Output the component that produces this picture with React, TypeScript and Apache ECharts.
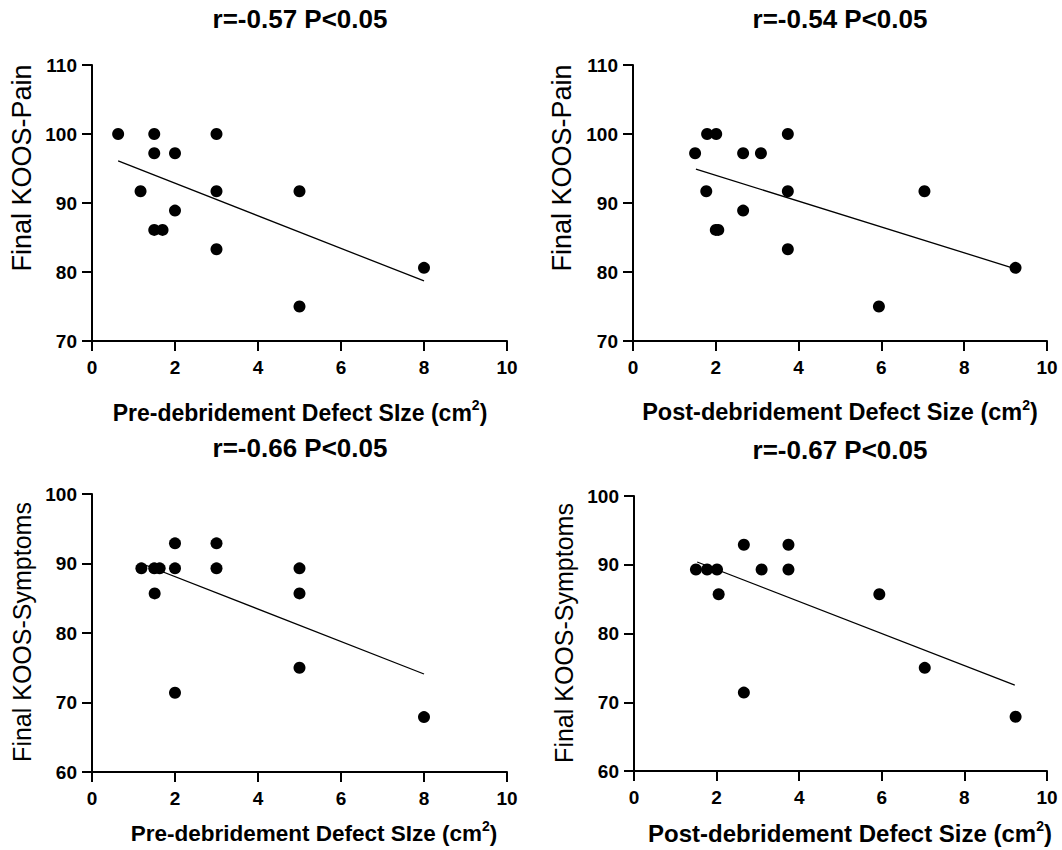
import React, { useEffect, useRef } from 'react';
import * as echarts from 'echarts';

// ---------- data ----------
const xTicks = [0, 2, 4, 6, 8, 10];
const painTicks = [70, 80, 90, 100, 110];
const symptomTicks = [60, 70, 80, 90, 100];

const panelTitles = ['r=-0.57 P<0.05', 'r=-0.54 P<0.05', 'r=-0.66 P<0.05', 'r=-0.67 P<0.05'];
const yTitles = ['Final KOOS-Pain', 'Final KOOS-Pain', 'Final KOOS-Symptoms', 'Final KOOS-Symptoms'];
const xTitleStems = ['Pre-debridement Defect SIze (cm', 'Post-debridement Defect Size (cm', 'Pre-debridement Defect SIze (cm', 'Post-debridement Defect Size (cm'];

// Panel A: pre-debridement size vs KOOS-Pain
const painPreX = [0.63, 1.5, 1.5, 2.0, 3.0, 1.17, 3.0, 2.0, 1.5, 1.7, 3.0, 5.0, 5.0, 8.0];
const painPreY = [100, 100, 97.2, 97.2, 100, 91.7, 91.7, 88.9, 86.1, 86.1, 83.3, 91.7, 75.0, 80.6];
const painPreFitX = [0.63, 8.0];
const painPreFitY = [96.1, 78.7];

// Panel B: post-debridement size vs KOOS-Pain
const painPostX = [1.5, 1.79, 2.01, 1.77, 2.0, 2.06, 2.66, 3.09, 2.66, 3.74, 3.74, 3.74, 5.94, 7.04, 9.24];
const painPostY = [97.2, 100, 100, 91.7, 86.1, 86.1, 97.2, 97.2, 88.9, 100, 91.7, 83.3, 75.0, 91.7, 80.6];
const painPostFitX = [1.52, 9.22];
const painPostFitY = [94.9, 80.5];

// Panel C: pre-debridement size vs KOOS-Symptoms
const symPreX = [1.19, 1.5, 1.63, 1.51, 2.0, 2.0, 2.0, 3.0, 3.0, 5.0, 5.0, 5.0, 8.0];
const symPreY = [89.3, 89.3, 89.3, 85.7, 92.9, 89.3, 71.4, 92.9, 89.3, 89.3, 85.7, 75.0, 67.9];
const symPreFitX = [1.19, 8.0];
const symPreFitY = [90.0, 74.1];

// Panel D: post-debridement size vs KOOS-Symptoms
const symPostX = [1.5, 1.77, 2.01, 2.05, 2.66, 2.66, 3.09, 3.74, 3.74, 5.94, 7.04, 9.24];
const symPostY = [89.3, 89.3, 89.3, 85.7, 92.9, 71.4, 89.3, 92.9, 89.3, 85.7, 75.0, 67.9];
const symPostFitX = [1.53, 9.22];
const symPostFitY = [90.4, 72.5];

const FONT = 'Liberation Sans, Arial, Helvetica, sans-serif';

const zip = (xs: number[], ys: number[]) => xs.map((x, i) => [x, ys[i]]);

function makeAxis(i: number, ticks: number[], margin: number) {
  return {
    type: 'value',
    gridIndex: i,
    min: ticks[0],
    max: ticks[ticks.length - 1],
    interval: ticks[1] - ticks[0],
    axisLine: { show: true, lineStyle: { color: '#000000', width: 2 } },
    axisTick: { show: true, length: 10, lineStyle: { color: '#000000', width: 2 } },
    splitLine: { show: false },
    axisLabel: {
      color: '#000000',
      fontFamily: FONT,
      fontWeight: 'bold',
      fontSize: 19,
      margin: margin,
    },
  };
}

export default function App() {
  const ref = useRef<HTMLDivElement>(null);

  useEffect(() => {
    if (!ref.current) return;
    const chart = echarts.init(ref.current, null, { renderer: 'svg' });

    const grids = [
      { left: 92, top: 65, width: 415, height: 276 },
      { left: 633, top: 65, width: 414, height: 276 },
      { left: 92, top: 494, width: 415, height: 278 },
      { left: 634, top: 496, width: 413, height: 275 },
    ];
    const yTickSets = [painTicks, painTicks, symptomTicks, symptomTicks];
    const scatterData = [
      zip(painPreX, painPreY),
      zip(painPostX, painPostY),
      zip(symPreX, symPreY),
      zip(symPostX, symPostY),
    ];
    const fitData = [
      zip(painPreFitX, painPreFitY),
      zip(painPostFitX, painPostFitY),
      zip(symPreFitX, symPreFitY),
      zip(symPostFitX, symPostFitY),
    ];

    const xAxis = grids.map((_, i) => makeAxis(i, xTicks, 17));
    const yAxis = grids.map((_, i) => makeAxis(i, yTickSets[i], 15));

    const series: any[] = [];
    grids.forEach((_, i) => {
      series.push({
        type: 'line',
        xAxisIndex: i,
        yAxisIndex: i,
        data: fitData[i],
        symbol: 'none',
        lineStyle: { color: '#000', width: 1.3 },
        z: 2,
      });
      series.push({
        type: 'scatter',
        xAxisIndex: i,
        yAxisIndex: i,
        data: scatterData[i],
        symbol: 'circle',
        symbolSize: 12,
        itemStyle: { color: '#000', opacity: 1 },
        z: 3,
      });
    });

    const titlePos = [[300, 19], [840, 19], [300, 448], [840, 450]];
    const yTitlePos = [[22, 168], [562, 168], [22, 632], [564, 633]];
    const yTitleSize = [27, 27, 25, 25];
    const xTitlePos = [[300, 411], [840, 411], [314, 832], [850, 832]];
    const xTitleSize = [23, 23.5, 22.5, 24];

    const graphic: any[] = [];
    grids.forEach((_, i) => {
      graphic.push({
        type: 'text', x: titlePos[i][0], y: titlePos[i][1],
        style: { text: panelTitles[i], fill: '#000', fontFamily: FONT, fontWeight: 'bold', fontSize: 26, align: 'center', verticalAlign: 'middle' },
      });
      graphic.push({
        type: 'text', x: yTitlePos[i][0], y: yTitlePos[i][1], rotation: Math.PI / 2,
        style: { text: yTitles[i], fill: '#000', fontFamily: FONT, fontSize: yTitleSize[i], align: 'center', verticalAlign: 'middle' },
      });
      graphic.push({
        type: 'text', x: xTitlePos[i][0], y: xTitlePos[i][1],
        style: {
          text: '{m|' + xTitleStems[i] + '}{s|2}{m|)}',
          fill: '#000', align: 'center', verticalAlign: 'middle',
          rich: {
            m: { fontFamily: FONT, fontWeight: 'bold', fontSize: xTitleSize[i], lineHeight: 26, fill: '#000', verticalAlign: 'bottom' },
            s: { fontFamily: FONT, fontWeight: 'bold', fontSize: 14, lineHeight: 14, fill: '#000', verticalAlign: 'top' },
          },
        },
      });
    });

    chart.setOption({
      animation: false,
      backgroundColor: '#fff',
      grid: grids,
      xAxis,
      yAxis,
      series,
      graphic,
    });

    return () => chart.dispose();
  }, []);

  return (
    <div
      ref={ref}
      style={{ position: 'absolute', left: 0, top: 0, width: 1062, height: 850, background: '#fff' }}
    />
  );
}
